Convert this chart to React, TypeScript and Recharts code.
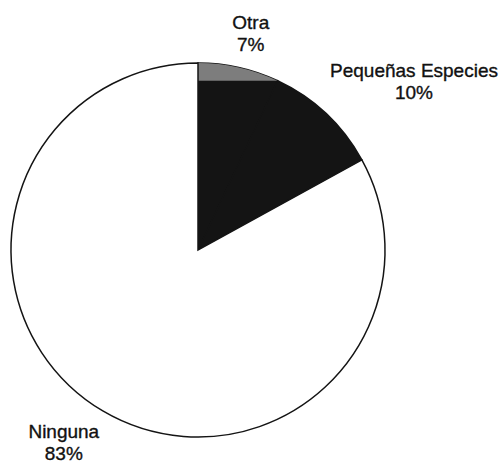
import React from "react";
import { PieChart, Pie, Cell, Sector } from "recharts";

const categories = ["Otra", "Pequeñas Especies", "Ninguna"];
const values = [7, 10, 83];
const percentLabels = ["7%", "10%", "83%"];

const colors = ["#7d7d7d", "#141414", "#ffffff"];
const labelOffsets = [
  { dx: 12, dy: -39 },
  { dx: 88, dy: -37 },
  { dx: -39, dy: 27 },
];

const data = categories.map((name, i) => ({ name, value: values[i], pct: percentLabels[i] }));

const RAD = Math.PI / 180;

const renderShape = (props: any) => {
  const { cx, cy, outerRadius, startAngle, endAngle, index } = props;
  if (index === 0) {
    // gray cap above a dark wedge, as printed in the original
    const a = endAngle * RAD;
    const ex = cx + outerRadius * Math.cos(a);
    const ey = cy - outerRadius * Math.sin(a);
    const sa = startAngle * RAD;
    const sx = cx + outerRadius * Math.cos(sa);
    const sy = cy - outerRadius * Math.sin(sa);
    const d = `M${sx},${sy} A${outerRadius},${outerRadius} 0 0 1 ${ex},${ey} L${cx},${ey} Z`;
    return (
      <g>
        <Sector {...props} fill={colors[1]} stroke={colors[1]} strokeWidth={1.5} />
        <path d={d} fill={colors[0]} stroke="none" />
      </g>
    );
  }
  return <Sector {...props} />;
};

const renderLabel = (props: any) => {
  const { cx, cy, outerRadius, midAngle, index } = props;
  const px = cx + outerRadius * Math.cos(-midAngle * RAD);
  const py = cy + outerRadius * Math.sin(-midAngle * RAD);
  const o = labelOffsets[index];
  const x = px + o.dx;
  const y = py + o.dy;
  return (
    <text
      x={x}
      y={y}
      textAnchor="middle"
      fill="#111"
      stroke="#111"
      strokeWidth={0.35}
      style={{ fontFamily: "'Liberation Sans', Arial, sans-serif", fontSize: 19 }}
    >
      <tspan x={x} y={y}>{data[index].name}</tspan>
      <tspan x={x} y={y + 22}>{data[index].pct}</tspan>
    </text>
  );
};

export default function App() {
  return (
    <div style={{ position: "fixed", left: 0, top: 0, width: 503, height: 465, background: "#fff" }}>
      <PieChart width={503} height={465} margin={{ top: 0, right: 0, bottom: 0, left: 0 }}>
        <Pie
          data={data}
          dataKey="value"
          nameKey="name"
          cx={198}
          cy={250}
          outerRadius={187}
          startAngle={90}
          endAngle={-270}
          stroke="#141414"
          strokeWidth={1.5}
          labelLine={false}
          label={renderLabel}
          shape={renderShape}
          isAnimationActive={false}
        >
          {data.map((d, i) => (
            <Cell key={d.name} fill={colors[i]} />
          ))}
        </Pie>
      </PieChart>
    </div>
  );
}
